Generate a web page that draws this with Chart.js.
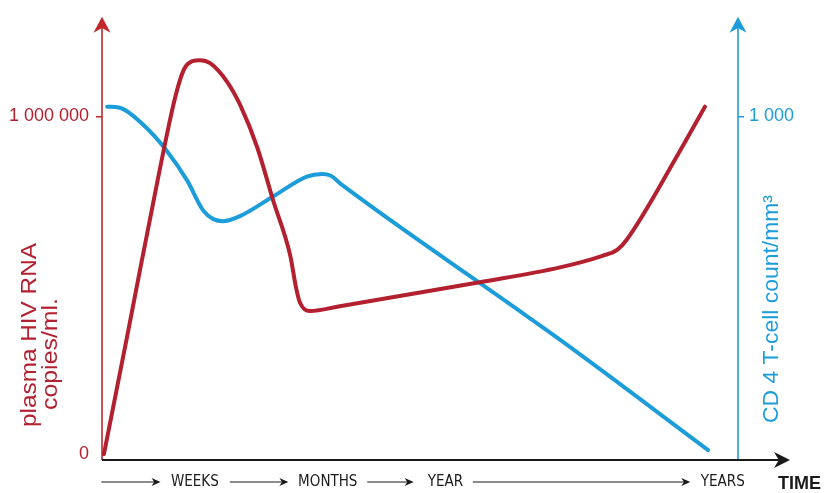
<!DOCTYPE html>
<html lang="en">
<head>
<meta charset="UTF-8">
<title>Plasma HIV RNA and CD4 T-cell count over time</title>
<script src="https://cdn.jsdelivr.net/npm/chart.js@4.4.1/dist/chart.umd.min.js"></script>
<style>
  body { margin: 0; background: #fff; }
  #chart { display: block; }
</style>
</head>
<body>
<canvas id="chart" width="825" height="493"></canvas>
<script>
// Time axis (arbitrary units, 0 = infection)
const timeLabels = ['WEEKS', 'MONTHS', 'YEAR', 'YEARS'];
const timeTicks = [14.6, 35.5, 54.0, 97.6];

// Plasma HIV RNA, copies/ml
const rnaTime = [0.3, 4.1, 9.1, 11.6, 12.9, 14.2, 15.4, 17.0, 19.7, 21.7, 24.4, 26.9, 29.6, 30.5, 31.1, 32.7, 37.4, 59.4, 72.0, 78.8, 81.0, 82.5, 90.6, 94.8];
const rnaCopies = [0, 363000, 845000, 1064000, 1140000, 1164000, 1167000, 1158000, 1102000, 1035000, 909000, 752000, 588000, 494000, 450000, 424000, 438000, 509000, 553000, 588000, 605000, 635000, 889000, 1029000];

// CD4 T-cell count, cells/mm3
const cd4Time = [0.8, 2.8, 6.4, 10.2, 13.4, 15.9, 17.5, 19.0, 21.7, 26.9, 32.2, 34.6, 35.9, 37.9, 63.7, 72.0, 95.3];
const cd4Count = [1029, 1026, 977, 898, 810, 722, 696, 690, 705, 763, 822, 830, 825, 795, 450, 339, 12];

// Tick labels on the two value axes
const rnaTicks = [0, 1000000];
const cd4Ticks = [1000];

const RED = '#b3202f';
const RED_AXIS = '#c1272d';
const BLUE = '#1c9dd9';
const BLACK = '#1a1a1a';

function spaced(v) {
  return String(v).replace(/\B(?=(\d{3})+(?!\d))/g, ' ');
}

function toPoints(xs, ys) {
  return xs.map((x, i) => ({ x: x, y: ys[i] }));
}

// Stealth-style arrow head, tip at (x, y), pointing in direction angle
function arrowHead(ctx, x, y, angle, len, half, color) {
  ctx.save();
  ctx.translate(x, y);
  ctx.rotate(angle);
  ctx.fillStyle = color;
  ctx.beginPath();
  ctx.moveTo(0, 0);
  ctx.lineTo(-len, -half);
  ctx.lineTo(-len * 0.7, 0);
  ctx.lineTo(-len, half);
  ctx.closePath();
  ctx.fill();
  ctx.restore();
}

function line(ctx, x1, y1, x2, y2, color, width) {
  ctx.save();
  ctx.strokeStyle = color;
  ctx.lineWidth = width;
  ctx.beginPath();
  ctx.moveTo(x1, y1);
  ctx.lineTo(x2, y2);
  ctx.stroke();
  ctx.restore();
}

// Rotated text, stretched along its length to fit
function verticalText(ctx, text, x, y, len, font, color) {
  ctx.save();
  ctx.translate(x, y);
  ctx.rotate(-Math.PI / 2);
  ctx.font = font;
  ctx.fillStyle = color;
  ctx.textAlign = 'left';
  ctx.textBaseline = 'alphabetic';
  const w = ctx.measureText(text).width;
  ctx.scale(len / w, 1);
  ctx.fillText(text, 0, 0);
  ctx.restore();
}

// Axes with arrows, the time arrows and the titles
const decorations = {
  id: 'decorations',
  beforeDatasetsDraw(chart) {
    const ctx = chart.ctx;
    const a = chart.chartArea;
    const x = chart.scales.x;

    line(ctx, a.left, a.bottom, a.left, a.top + 8, RED_AXIS, 1.6);
    arrowHead(ctx, a.left, a.top - 1, -Math.PI / 2, 16, 8.5, RED_AXIS);

    line(ctx, a.right, a.bottom, a.right, a.top + 8, BLUE, 1.6);
    arrowHead(ctx, a.right, a.top - 1, -Math.PI / 2, 16, 8.5, BLUE);

    line(ctx, a.left, a.bottom, 780, a.bottom, BLACK, 2);
    arrowHead(ctx, 790, a.bottom, 0, 16, 8, BLACK);

    // little arrows between the time labels
    const arrows = [[-0.1, 9.2], [20.1, 29.3], [41.7, 49.0], [58.3, 92.5]];
    const ay = a.bottom + 22;
    arrows.forEach(([from, to]) => {
      const x1 = x.getPixelForValue(from);
      const x2 = x.getPixelForValue(to);
      line(ctx, x1, ay, x2 - 5, ay, BLACK, 1.2);
      arrowHead(ctx, x2, ay, 0, 9, 4, BLACK);
    });
  },
  afterDraw(chart) {
    const ctx = chart.ctx;
    verticalText(ctx, 'plasma HIV RNA', 36, 427, 184, '22px "Liberation Sans", Arial, sans-serif', RED);
    verticalText(ctx, 'copies/ml.', 56.5, 410, 112, '22px "Liberation Sans", Arial, sans-serif', RED);
    verticalText(ctx, 'CD 4 T-cell count/mm\u00b3', 778, 423, 228, '22px "Liberation Sans", Arial, sans-serif', BLUE);

    ctx.save();
    ctx.font = 'bold 18px "Liberation Sans", Arial, sans-serif';
    ctx.fillStyle = BLACK;
    ctx.textAlign = 'left';
    ctx.textBaseline = 'middle';
    ctx.fillText('TIME', 778, 484);
    ctx.restore();
  }
};

const ctx = document.getElementById('chart').getContext('2d');

new Chart(ctx, {
  type: 'line',
  data: {
    datasets: [
      {
        label: 'plasma HIV RNA',
        data: toPoints(rnaTime, rnaCopies),
        yAxisID: 'y',
        borderColor: RED,
        borderWidth: 4,
        borderCapStyle: 'round',
        pointRadius: 0,
        fill: false,
        cubicInterpolationMode: 'monotone'
      },
      {
        label: 'CD 4 T-cell count',
        data: toPoints(cd4Time, cd4Count),
        yAxisID: 'y1',
        borderColor: BLUE,
        borderWidth: 4,
        borderCapStyle: 'round',
        pointRadius: 0,
        fill: false,
        cubicInterpolationMode: 'monotone'
      }
    ]
  },
  options: {
    responsive: false,
    animation: false,
    devicePixelRatio: 1,
    layout: { padding: { top: 12, left: 0, right: 0, bottom: 0 } },
    plugins: {
      legend: { display: false },
      tooltip: { enabled: false }
    },
    scales: {
      x: {
        type: 'linear',
        min: 0,
        max: 100,
        border: { display: false },
        grid: { display: false, drawTicks: false },
        afterBuildTicks: axis => { axis.ticks = timeTicks.map(v => ({ value: v })); },
        afterFit: axis => { axis.height = 33; },
        ticks: {
          autoSkip: false,
          maxRotation: 0,
          padding: 13,
          color: BLACK,
          font: { family: '"Liberation Sans Narrow", "DejaVu Sans Condensed", sans-serif', size: 15 },
          callback: (value, index) => timeLabels[index]
        }
      },
      y: {
        position: 'left',
        min: -17544,
        max: 1292398,
        border: { display: false },
        grid: {
          drawOnChartArea: false,
          drawTicks: true,
          tickLength: 6,
          lineWidth: 1.5,
          color: c => (c.tick && c.tick.value === 0 ? 'rgba(0,0,0,0)' : RED_AXIS)
        },
        afterBuildTicks: axis => { axis.ticks = rnaTicks.map(v => ({ value: v })); },
        afterFit: axis => { axis.width = 102; },
        ticks: {
          padding: 7,
          color: RED,
          font: { family: '"Liberation Sans", Arial, sans-serif', size: 18 },
          callback: value => spaced(value)
        }
      },
      y1: {
        position: 'right',
        min: -17.544,
        max: 1292.398,
        border: { display: false },
        grid: {
          drawOnChartArea: false,
          drawTicks: true,
          tickLength: 6,
          lineWidth: 1.5,
          color: BLUE
        },
        afterBuildTicks: axis => { axis.ticks = cd4Ticks.map(v => ({ value: v })); },
        afterFit: axis => { axis.width = 87; },
        ticks: {
          padding: 5,
          color: BLUE,
          font: { family: '"Liberation Sans", Arial, sans-serif', size: 18 },
          callback: value => spaced(value)
        }
      }
    }
  },
  plugins: [decorations]
});
</script>
</body>
</html>
